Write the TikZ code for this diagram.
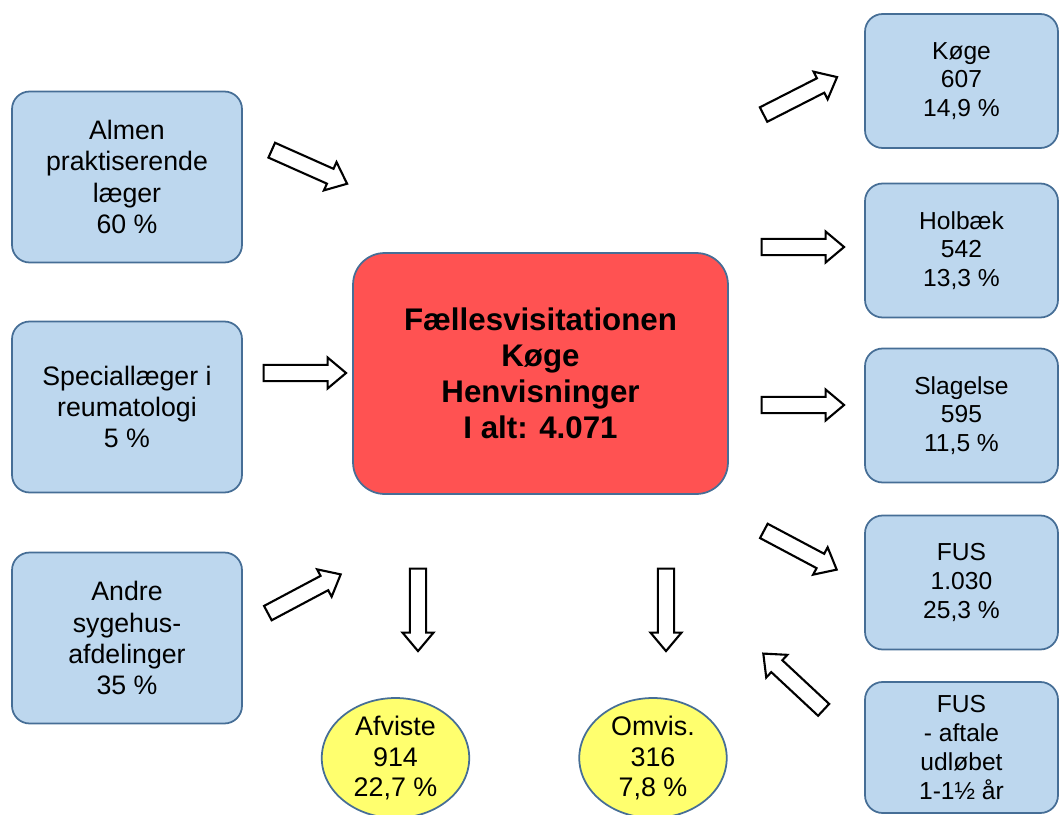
\documentclass[tikz,border=0pt]{standalone}
\usepackage{fontspec}
\setmainfont{Liberation Sans}
\usetikzlibrary{shapes.geometric,shapes.arrows}
\definecolor{boxblue}{RGB}{189,215,238}
\definecolor{boxline}{RGB}{70,110,150}
\definecolor{centerred}{RGB}{255,82,82}
\definecolor{ovalyellow}{RGB}{255,255,110}
\tikzset{
  kilde/.style={rectangle,rounded corners=10pt,draw=boxline,line width=1pt,fill=boxblue,align=center,
    minimum width=4.6cm,minimum height=3.42cm,font=\fontsize{15.2}{17.7}\selectfont},
  modtager/.style={rectangle,rounded corners=10pt,draw=boxline,line width=1pt,fill=boxblue,align=center,
    minimum width=3.86cm,minimum height=2.68cm,font=\fontsize{14}{16.4}\selectfont},
  udfald/.style={ellipse,draw=boxline,line width=1pt,fill=ovalyellow,align=center,inner sep=0pt,
    minimum width=2.95cm,minimum height=2.4cm,font=\fontsize{15.3}{17.4}\selectfont},
  blokpil/.style={single arrow,draw=black,line width=1.2pt,fill=white,inner sep=3.8pt,
    minimum height=1.65cm,minimum width=0.62cm,single arrow head extend=4pt,single arrow tip angle=80}
}
\begin{document}
\begin{tikzpicture}[x=0.02cm,y=-0.02cm]
            \useasboundingbox (0,0) rectangle (1059,815);
            \node(almen)[kilde] at (127,177){Almen\\praktiserende\\læger\\60 \%};
            \node(special)[kilde] at (127,407){Speciallæger i\\reumatologi\\5 \%};
            \node(andre)[kilde] at (127,638){Andre\\sygehus-\\afdelinger\\35 \%};
            \node(fv)[rectangle,rounded corners=18pt,draw=boxline,line width=1pt,fill=centerred,align=center,
                minimum width=7.5cm,minimum height=4.82cm,font=\fontsize{17.8}{20.4}\selectfont\bfseries]
                at (540.5,373.5){Fællesvisitationen\\Køge\\Henvisninger\\I alt: 4.071};
            \node(koege)[modtager] at (961.5,81){Køge\\607\\14,9 \%};
            \node(holbaek)[modtager] at (961.5,250.5){Holbæk\\542\\13,3 \%};
            \node(slagelse)[modtager] at (961.5,415.5){Slagelse\\595\\11,5 \%};
            \node(fus)[modtager] at (961.5,582.5){FUS\\1.030\\25,3 \%};
            \node(fusaftale)[modtager,minimum height=2.62cm] at (961.5,747.5){FUS\\- aftale\\udløbet\\1-1½ år};
            \node(afviste)[udfald] at (395.5,758){Afviste\\914\\22,7 \%};
            \node(omvis)[udfald] at (653,758){Omvis.\\316\\7,8 \%};
            % pile
            \node(p1)[blokpil,rotate=-24] at (305,165){};
            \node(p2)[blokpil] at (300,373){};
            \node(p3)[blokpil,rotate=28] at (300,596){};
            \node(p4)[blokpil,rotate=-90] at (418,605){};
            \node(p5)[blokpil,rotate=-90] at (666,605){};
            \node(p6)[blokpil,rotate=27] at (796,98){};
            \node(p7)[blokpil] at (798,247){};
            \node(p8)[blokpil] at (798,405){};
            \node(p9)[blokpil,rotate=-28] at (796,548){};
            \node(p10)[blokpil,rotate=137] at (797,685){};
        \end{tikzpicture}
\end{document}
